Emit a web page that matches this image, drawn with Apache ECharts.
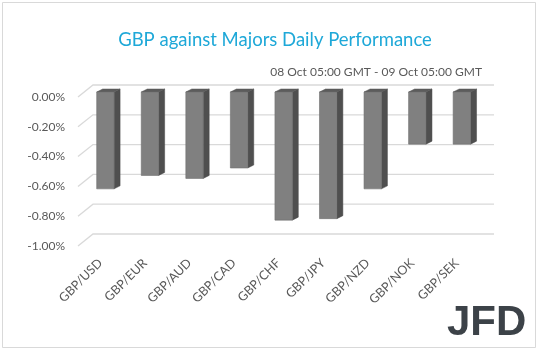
<!DOCTYPE html>
<html>
<head>
<meta charset="utf-8">
<script src="https://cdn.jsdelivr.net/npm/echarts@6/dist/echarts.min.js"></script>
<style>
  html, body { margin: 0; padding: 0; background: #fff; }
  #chart { width: 538px; height: 351px; }
</style>
</head>
<body>
<div id="chart"></div>
<script>
const pairs = ['GBP/USD', 'GBP/EUR', 'GBP/AUD', 'GBP/CAD', 'GBP/CHF', 'GBP/JPY', 'GBP/NZD', 'GBP/NOK', 'GBP/SEK'];
const changes = [-0.65, -0.56, -0.58, -0.51, -0.86, -0.85, -0.65, -0.35, -0.35];
const yTicks = [0, -0.2, -0.4, -0.6, -0.8, -1.0];

const titleText = 'GBP against Majors Daily Performance';
const periodText = '08 Oct 05:00 GMT - 09 Oct 05:00 GMT';

const font = 'Lato, "Noto Sans", sans-serif';
const chart = echarts.init(document.getElementById('chart'));

// back wall gridlines with the little diagonal on the left, like Excel's 3D chart
const renderGrid = (params, api) => {
  const y = api.coord([0, api.value(0)])[1];
  const cs = params.coordSys;
  return {
    type: 'polyline',
    shape: { points: [[cs.x, y], [cs.x + 15, y - 12], [cs.x + cs.width + 15, y - 12]] },
    style: { stroke: '#d9d9d9', lineWidth: 1.3, fill: null },
    silent: true
  };
};

// 3D-ish column: front face, side face, top face
const renderBar = (params, api) => {
  const idx = api.value(0);
  const top = api.coord([idx, 0]);
  const bottom = api.coord([idx, api.value(1)]);
  const bw = api.size([1, 0])[0];
  const x0 = top[0] - bw * 0.08;
  const w = bw * 0.39;
  const dx = 6, dy = -3;
  const yTop = top[1] - 5;
  const yBot = bottom[1] - 5;
  return {
    type: 'group',
    children: [
      {
        type: 'polygon',
        shape: { points: [[x0 + w, yTop], [x0 + w + dx, yTop + dy], [x0 + w + dx, yBot + dy], [x0 + w, yBot]] },
        style: { fill: '#4f4f4f', stroke: '#4a4a4a', lineWidth: 0.5 }
      },
      {
        type: 'polygon',
        shape: { points: [[x0, yTop], [x0 + dx, yTop + dy], [x0 + w + dx, yTop + dy], [x0 + w, yTop]] },
        style: { fill: '#5c5c5c', stroke: '#555', lineWidth: 0.5 }
      },
      {
        type: 'rect',
        shape: { x: x0, y: yTop, width: w, height: yBot - yTop },
        style: { fill: '#808080', stroke: '#6e6e6e', lineWidth: 0.6 }
      }
    ]
  };
};

chart.setOption({
  backgroundColor: '#fff',
  animation: false,
  graphic: [
    {
      type: 'rect',
      shape: { x: 2.5, y: 2.5, width: 533, height: 345 },
      style: { fill: null, stroke: '#d9d9d9', lineWidth: 1 },
      silent: true
    },
    {
      type: 'text',
      x: 275,
      y: 40,
      style: { text: titleText, fill: '#1ea8d8', fontSize: 18.5, fontFamily: font, align: 'center', verticalAlign: 'middle' }
    },
    {
      type: 'text',
      right: 56,
      top: 66,
      style: { text: periodText, fill: '#595959', fontSize: 12, fontFamily: font }
    },
    {
      type: 'text',
      left: 447,
      top: 302,
      style: { text: 'JFD', fill: '#3c4248', fontSize: 42, fontWeight: 'bold', fontFamily: '"Liberation Sans", Arial, sans-serif' }
    }
  ],
  grid: { left: 78, right: 59, top: 97, bottom: 105 },
  xAxis: {
    type: 'category',
    data: pairs,
    axisLine: { show: false },
    axisTick: { show: false },
    axisLabel: { rotate: 45, margin: 15, color: '#595959', fontSize: 12.5, fontFamily: font, interval: 0 }
  },
  yAxis: {
    type: 'value',
    min: -1,
    max: 0,
    interval: 0.2,
    axisLine: { show: false },
    axisTick: { show: false },
    splitLine: { show: false },
    axisLabel: {
      margin: 13,
      color: '#595959',
      fontSize: 12,
      fontFamily: font,
      formatter: v => (Math.abs(v) < 1e-9 ? 0 : v).toFixed(2) + '%'
    }
  },
  series: [
    {
      type: 'custom',
      renderItem: renderGrid,
      data: yTicks.map(v => [v]),
      encode: { y: 0 },
      z: 1
    },
    {
      type: 'custom',
      renderItem: renderBar,
      data: changes.map((v, i) => [i, v]),
      encode: { x: 0, y: 1 },
      z: 2
    }
  ]
});
</script>
</body>
</html>
